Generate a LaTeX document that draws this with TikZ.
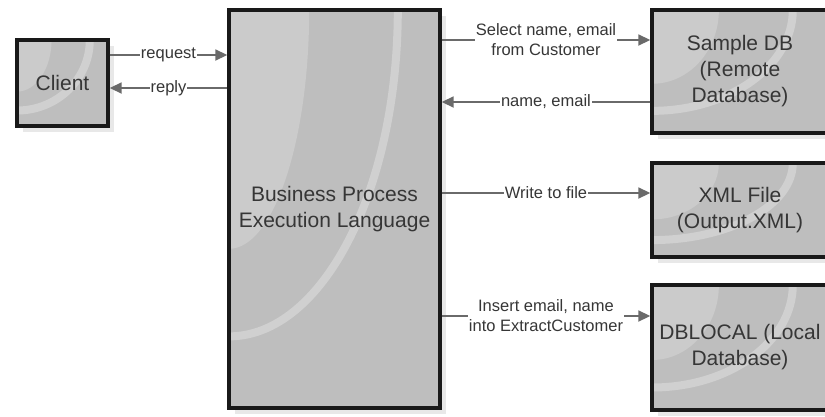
\documentclass[tikz,border=0pt]{standalone}
\usepackage{fontspec}
\setmainfont{Liberation Sans}
\usetikzlibrary{arrows.meta,calc,shadows}

\definecolor{boxgray}{HTML}{BEBEBE}
\definecolor{txtgray}{HTML}{363636}
\definecolor{linegray}{HTML}{6A6A6A}

\tikzset{
  blockbox/.style={draw=black!90, line width=3.4pt, fill=boxgray, text=txtgray,
    align=center, font=\fontsize{21}{26}\selectfont,
    drop shadow={shadow xshift=6pt, shadow yshift=-6pt, fill=black!9, opacity=1},
    path picture={
      \fill[white,opacity=.2] let \p1=($(path picture bounding box.north east)-(path picture bounding box.south west)$) in
        (path picture bounding box.north west) ellipse [x radius=0.38*\x1, y radius=0.6*\y1];
      \draw[white,opacity=.28,line width=8pt] let \p1=($(path picture bounding box.north east)-(path picture bounding box.south west)$) in
        (path picture bounding box.north west) ellipse [x radius=0.8*\x1, y radius=0.82*\y1];
    }},
  flow/.style={draw=linegray, line width=1.8pt, -{Triangle[length=12pt,width=11pt]}, color=linegray},
  lbl/.style={fill=white, inner sep=1pt, text=txtgray, align=center,
    font=\fontsize{16.5}{20}\selectfont}
}

\begin{document}
\begin{tikzpicture}[x=1pt,y=-1pt]
  \useasboundingbox (0,0) rectangle (825,416);
  \clip (0,0) rectangle (825,416);
  \fill[white] (0,0) rectangle (825,416);

  % boxes
  \node[blockbox, minimum width=91pt, minimum height=86pt] (client) at (62.5,83) {Client};
  \node[blockbox, minimum width=211pt, minimum height=398pt] (bpel) at (334.5,209) {Business Process\\Execution Language};
  \node[blockbox, minimum width=176pt, minimum height=123pt] (sampledb) at (740,71.5) {Sample DB\\(Remote\\Database)};
  \node[blockbox, minimum width=176pt, minimum height=94pt] (xmlfile) at (740,210) {XML File\\(Output.XML)};
  \node[blockbox, minimum width=176pt, minimum height=125pt] (dblocal) at (740,347.5) {DBLOCAL (Local\\Database)};

  % client <-> bpel
  \draw[flow] (client.east |- 0,55) -- node[lbl] {request} (bpel.west |- 0,55);
  \draw[flow] (bpel.west |- 0,88) -- node[lbl] {reply} (client.east |- 0,88);

  % bpel <-> data stores
  \draw[flow] (bpel.east |- 0,40) -- node[lbl] {Select name, email\\from Customer} (sampledb.west |- 0,40);
  \draw[flow] (sampledb.west |- 0,102) -- node[lbl] {name, email} (bpel.east |- 0,102);
  \draw[flow] (bpel.east |- 0,193) -- node[lbl] {Write to file} (xmlfile.west |- 0,193);
  \draw[flow] (bpel.east |- 0,316) -- node[lbl] {Insert email, name\\into ExtractCustomer} (dblocal.west |- 0,316);
\end{tikzpicture}
\end{document}
